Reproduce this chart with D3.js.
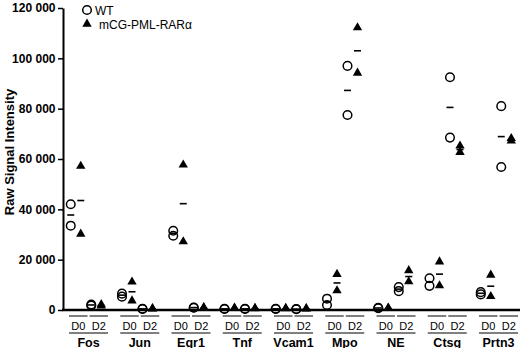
<!DOCTYPE html>
<html>
<head>
<meta charset="utf-8">
<script src="https://cdn.jsdelivr.net/npm/d3@7"></script>
<style>
  html, body { margin: 0; padding: 0; background: #fff; }
  svg { display: block; font-family: Arial, "Liberation Sans", sans-serif; }
</style>
</head>
<body>
<svg id="chart" width="520" height="348"></svg>
<script>
const genes = ["Fos", "Jun", "Egr1", "Tnf", "Vcam1", "Mpo", "NE", "Ctsg", "Prtn3"];
const days = ["D0", "D2"];
const yTicks = [0, 20000, 40000, 60000, 80000, 100000, 120000];
const seriesNames = ["WT", "mCG-PML-RARα"];

// WT replicate values: [gene][day] -> [rep1, rep2]
const wtValues = [
  [[42000, 33500], [2200, 1800]],
  [[6500, 5300], [500, 400]],
  [[31500, 29500], [1000, 900]],
  [[500, 400], [500, 400]],
  [[500, 400], [400, 300]],
  [[4500, 2000], [97000, 77500]],
  [[900, 700], [9100, 7500]],
  [[12600, 9600], [92500, 68500]],
  [[7100, 6200], [81000, 56800]]
];
// mCG-PML-RARα replicate values
const mutValues = [
  [[57000, 30000], [2000, 1500]],
  [[11000, 3500], [400, 300]],
  [[57500, 27000], [800, 700]],
  [[600, 500], [500, 400]],
  [[500, 400], [400, 300]],
  [[14000, 7500], [112000, 94000]],
  [[600, 500], [15500, 11100]],
  [[19000, 9500], [65000, 62500]],
  [[13700, 5200], [68000, 67000]]
];

const svg = d3.select("#chart");
const W = 520;
const x0 = 63, yBase = 310, yTop = 8;

const xGene = d3.scaleBand().domain(genes).range([x0, x0 + 9 * 51.25]).padding(0);
const xDay = d3.scaleBand().domain(days).range([5, 46]).padding(0);
const y = d3.scaleLinear().domain([0, 120000]).range([yBase, yTop]);

const loc = d3.formatLocale({decimal: ".", thousands: " ", grouping: [3], currency: ["", ""]});
const fmt = loc.format(",");

// Y axis
const yAxis = d3.axisLeft(y).tickValues(yTicks).tickFormat(fmt).tickSize(5).tickSizeOuter(0).tickPadding(2.5);
const gy = svg.append("g").attr("transform", `translate(${x0},0)`).call(yAxis);
gy.select(".domain").attr("stroke", "#000").attr("stroke-width", 2);
gy.selectAll(".tick line").attr("stroke", "#000").attr("stroke-width", 1.5);
gy.selectAll(".tick text").attr("font-size", 12).attr("font-weight", "bold")
  .attr("font-family", "Arial, 'Liberation Sans', sans-serif").attr("fill", "#000");

// Y title
svg.append("text")
  .attr("transform", `translate(14,152) rotate(-90)`)
  .attr("text-anchor", "middle")
  .attr("font-size", 13).attr("font-weight", "bold")
  .text("Raw Signal Intensity");

// X axis line
svg.append("line").attr("x1", x0 - 1).attr("x2", W).attr("y1", y(0)).attr("y2", y(0))
  .attr("stroke", "#000").attr("stroke-width", 2.5);

// X labels
const gx = svg.append("g");
genes.forEach(g => {
  const gStart = xGene(g);
  days.forEach(d => {
    const bx = gStart + xDay(d);
    const bw = xDay.bandwidth();
    gx.append("line").attr("x1", bx + 1).attr("x2", bx + bw - 1).attr("y1", 316).attr("y2", 316)
      .attr("stroke", "#000").attr("stroke-width", 1);
    gx.append("text").attr("x", bx + bw / 2).attr("y", 329.5).attr("text-anchor", "middle")
      .attr("font-size", 11).text(d);
  });
  const s = gStart + xDay("D0") + 1, e = gStart + xDay("D2") + xDay.bandwidth() - 1;
  gx.append("line").attr("x1", s).attr("x2", e).attr("y1", 333).attr("y2", 333)
    .attr("stroke", "#000").attr("stroke-width", 1);
  gx.append("text").attr("x", (s + e) / 2).attr("y", 346.5).attr("text-anchor", "middle")
    .attr("font-size", 12.5).attr("font-weight", "bold").text(g);
});

// Points
const tri = d3.symbol().type(d3.symbolTriangle).size(38);
const pts = svg.append("g");
genes.forEach((g, gi) => {
  days.forEach((d, di) => {
    const cx = xGene(g) + xDay(d) + xDay.bandwidth() / 2;
    const wx = cx - 7.5, mx = cx + 2.5;
    const wv = wtValues[gi][di], mv = mutValues[gi][di];
    const wm = d3.mean(wv), mm = d3.mean(mv);
    pts.append("line").attr("x1", wx - 3.5).attr("x2", wx + 3.5).attr("y1", y(wm)).attr("y2", y(wm))
      .attr("stroke", "#000").attr("stroke-width", 1.6);
    pts.append("line").attr("x1", mx - 3.5).attr("x2", mx + 3.5).attr("y1", y(mm)).attr("y2", y(mm))
      .attr("stroke", "#000").attr("stroke-width", 1.6);
    wv.forEach(v => {
      pts.append("circle").attr("cx", wx).attr("cy", y(v)).attr("r", 4.3)
        .attr("fill", "none").attr("stroke", "#000").attr("stroke-width", 1.5);
    });
    mv.forEach(v => {
      pts.append("path").attr("d", tri).attr("transform", `translate(${mx},${y(v) - 0.5})`)
        .attr("fill", "#000");
    });
  });
});

// Legend
const lg = svg.append("g");
lg.append("circle").attr("cx", 87).attr("cy", 10).attr("r", 4.3)
  .attr("fill", "none").attr("stroke", "#000").attr("stroke-width", 1.5);
lg.append("text").attr("x", 95).attr("y", 14.5).attr("font-size", 12).text(seriesNames[0]);
lg.append("path").attr("d", tri).attr("transform", "translate(87,24)").attr("fill", "#000");
lg.append("text").attr("x", 99).attr("y", 28.5).attr("font-size", 12).text(seriesNames[1]);
</script>
</body>
</html>
